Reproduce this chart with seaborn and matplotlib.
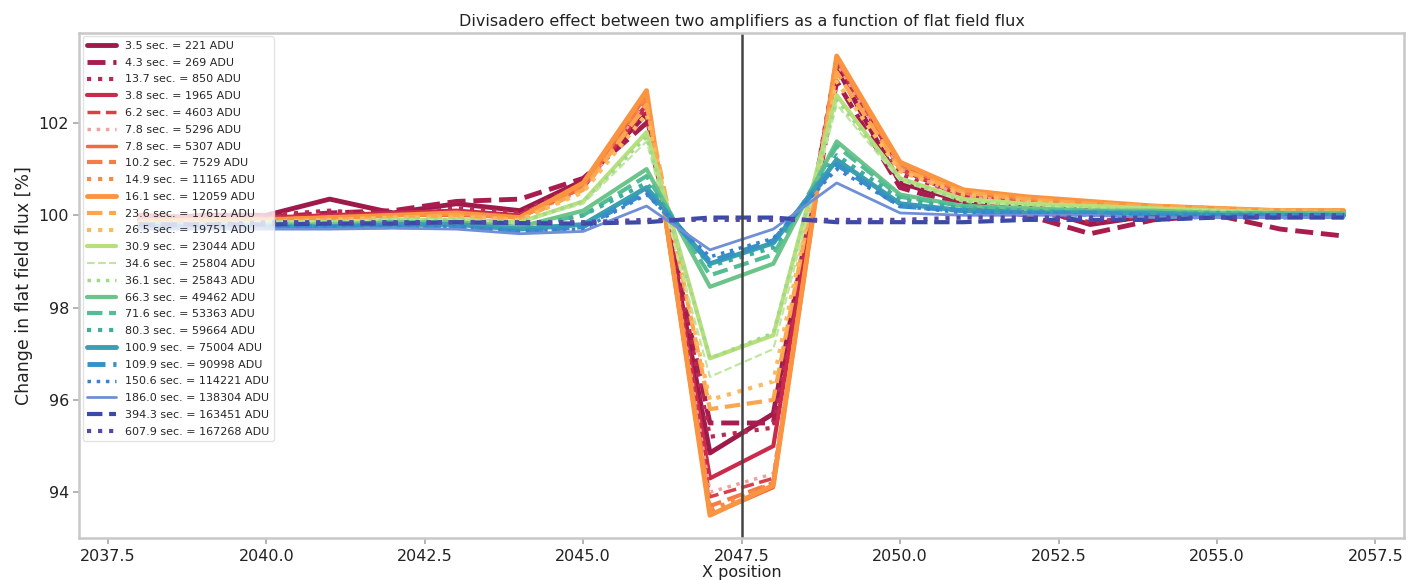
import numpy as np
import pandas as pd
import seaborn as sns
import matplotlib.pyplot as plt

# -------------------- Data --------------------
x_pos = list(range(2038, 2058))

labels = [
    "3.5 sec. = 221 ADU", "4.3 sec. = 269 ADU", "13.7 sec. = 850 ADU",
    "3.8 sec. = 1965 ADU", "6.2 sec. = 4603 ADU", "7.8 sec. = 5296 ADU",
    "7.8 sec. = 5307 ADU", "10.2 sec. = 7529 ADU", "14.9 sec. = 11165 ADU",
    "16.1 sec. = 12059 ADU", "23.6 sec. = 17612 ADU", "26.5 sec. = 19751 ADU",
    "30.9 sec. = 23044 ADU", "34.6 sec. = 25804 ADU", "36.1 sec. = 25843 ADU",
    "66.3 sec. = 49462 ADU", "71.6 sec. = 53363 ADU", "80.3 sec. = 59664 ADU",
    "100.9 sec. = 75004 ADU", "109.9 sec. = 90998 ADU", "150.6 sec. = 114221 ADU",
    "186.0 sec. = 138304 ADU", "394.3 sec. = 163451 ADU", "607.9 sec. = 167268 ADU",
]

f221 = [99.9, 100.0, 100.0, 100.35, 100.05, 100.25, 100.1, 100.75, 102.2, 94.85, 95.7, 103.2, 100.7, 100.3, 100.2, 99.8, 100.0, 100.05, 100.0, 100.05]
f269 = [100.0, 99.9, 99.95, 100.05, 100.1, 100.3, 100.35, 100.8, 102.0, 95.5, 95.5, 102.9, 100.6, 100.2, 100.0, 99.6, 99.9, 100.0, 99.7, 99.55]
f850 = [99.95, 100.0, 100.0, 100.1, 100.0, 100.15, 100.05, 100.7, 102.3, 95.2, 95.4, 103.4, 100.9, 100.3, 100.1, 99.85, 100.0, 100.0, 99.95, 100.0]
f1965 = [100.0, 99.95, 99.95, 100.0, 100.05, 100.1, 100.0, 100.6, 102.4, 94.3, 95.0, 103.35, 101.0, 100.4, 100.25, 100.1, 100.1, 100.05, 100.0, 100.05]
f4603 = [99.95, 100.0, 99.95, 99.95, 100.0, 100.05, 99.95, 100.6, 102.5, 93.9, 94.3, 103.4, 101.0, 100.45, 100.3, 100.15, 100.1, 100.05, 100.05, 100.05]
f5296 = [99.9, 99.9, 99.9, 99.95, 100.0, 100.0, 99.95, 100.55, 102.5, 94.0, 94.4, 103.3, 101.0, 100.4, 100.3, 100.2, 100.1, 100.05, 100.05, 100.05]
f5307 = [99.9, 99.9, 99.9, 99.95, 100.0, 100.0, 99.95, 100.6, 102.6, 93.5, 94.1, 103.45, 101.1, 100.5, 100.35, 100.25, 100.2, 100.1, 100.1, 100.1]
f7529 = [99.9, 99.9, 99.9, 99.95, 99.95, 100.0, 99.9, 100.6, 102.55, 93.7, 94.2, 103.4, 101.1, 100.5, 100.35, 100.25, 100.2, 100.1, 100.1, 100.1]
f11165 = [99.9, 99.85, 99.9, 99.95, 99.95, 100.0, 99.95, 100.65, 102.6, 93.6, 94.2, 103.4, 101.1, 100.55, 100.35, 100.25, 100.2, 100.15, 100.1, 100.1]
f12059 = [99.85, 99.9, 99.9, 99.95, 100.0, 100.05, 99.95, 100.7, 102.7, 93.5, 94.15, 103.45, 101.15, 100.55, 100.4, 100.3, 100.2, 100.15, 100.1, 100.1]
f17612 = [99.85, 99.85, 99.85, 99.9, 99.95, 100.0, 99.9, 100.55, 102.4, 95.8, 96.0, 103.1, 101.0, 100.5, 100.35, 100.25, 100.2, 100.15, 100.1, 100.1]
f19751 = [99.85, 99.85, 99.85, 99.9, 99.95, 99.95, 99.9, 100.5, 102.2, 96.0, 96.4, 102.9, 100.95, 100.45, 100.3, 100.2, 100.15, 100.1, 100.1, 100.05]
f23044 = [99.8, 99.8, 99.85, 99.85, 99.9, 99.9, 99.85, 100.3, 101.8, 96.9, 97.4, 102.6, 100.8, 100.35, 100.25, 100.2, 100.15, 100.1, 100.05, 100.05]
f25804 = [99.8, 99.8, 99.85, 99.85, 99.9, 99.9, 99.85, 100.25, 101.6, 96.5, 97.1, 102.4, 100.75, 100.3, 100.2, 100.15, 100.1, 100.1, 100.05, 100.05]
f25843 = [99.8, 99.8, 99.85, 99.85, 99.9, 99.9, 99.85, 100.3, 101.7, 96.9, 97.45, 102.5, 100.8, 100.3, 100.2, 100.15, 100.1, 100.1, 100.05, 100.05]
f49462 = [99.8, 99.8, 99.8, 99.8, 99.85, 99.85, 99.75, 100.1, 101.0, 98.45, 98.95, 101.6, 100.45, 100.2, 100.15, 100.1, 100.1, 100.05, 100.05, 100.05]
f53363 = [99.8, 99.8, 99.8, 99.8, 99.85, 99.85, 99.75, 100.0, 100.85, 98.7, 99.15, 101.5, 100.4, 100.2, 100.1, 100.1, 100.05, 100.05, 100.05, 100.0]
f59664 = [99.8, 99.8, 99.8, 99.8, 99.8, 99.8, 99.7, 100.0, 100.7, 98.9, 99.3, 101.3, 100.35, 100.15, 100.1, 100.05, 100.05, 100.05, 100.0, 100.0]
f75004 = [99.75, 99.75, 99.75, 99.75, 99.8, 99.8, 99.7, 99.8, 100.6, 98.95, 99.4, 101.2, 100.25, 100.1, 100.05, 100.05, 100.05, 100.0, 100.0, 100.0]
f90998 = [99.75, 99.75, 99.75, 99.75, 99.75, 99.75, 99.65, 99.75, 100.5, 99.0, 99.45, 101.1, 100.2, 100.1, 100.05, 100.05, 100.0, 100.0, 100.0, 100.0]
f114221 = [99.75, 99.75, 99.75, 99.75, 99.75, 99.75, 99.65, 99.7, 100.45, 99.1, 99.5, 101.0, 100.2, 100.05, 100.05, 100.0, 100.0, 100.0, 100.0, 99.95]
f138304 = [99.7, 99.7, 99.7, 99.7, 99.72, 99.7, 99.6, 99.65, 100.2, 99.25, 99.7, 100.7, 100.05, 100.0, 100.0, 100.0, 99.95, 99.95, 99.95, 99.95]
f163451 = [99.8, 99.8, 99.8, 99.82, 99.82, 99.85, 99.83, 99.82, 99.85, 99.95, 99.95, 99.85, 99.85, 99.85, 99.9, 99.9, 99.9, 99.95, 99.95, 99.95]
f167268 = [99.8, 99.8, 99.85, 99.85, 99.85, 99.85, 99.85, 99.85, 99.9, 99.9, 99.9, 99.9, 99.9, 99.95, 99.95, 99.95, 99.95, 99.95, 100.0, 100.0]

series = [f221, f269, f850, f1965, f4603, f5296, f5307, f7529, f11165, f12059,
          f17612, f19751, f23044, f25804, f25843, f49462, f53363, f59664,
          f75004, f90998, f114221, f138304, f163451, f167268]

# -------------------- Styles --------------------
colors = [
    "#9e1a4a", "#a81d4d", "#b82a52", "#cc2a4a", "#d8414a", "#f0a0a0",
    "#f26a3e", "#f57c45", "#f88a45", "#fb9440", "#fca650", "#fdb95e",
    "#b8e07a", "#bfe6a0", "#9fd98a", "#6cc48a", "#55bd95", "#3fae9c",
    "#3a9fb0", "#3591c6", "#3b82cc", "#6f8fd6", "#3a4aa8", "#5548a8",
]
linestyles = ["-", "--", ":"] * 8
widths = [3.5, 3.5, 3, 3, 2.5, 2.5, 2.5, 3, 3, 3.5, 3, 3,
          3, 1.5, 2.5, 3, 3, 3, 3.5, 3.5, 2.5, 2, 3, 3]

# -------------------- Plot --------------------
sns.set_theme(style="white")
fig = plt.figure(figsize=(14.16, 5.8), dpi=100)
ax = fig.add_axes([0.056, 0.072, 0.9355, 0.871])

for vals, lab, col, ls, lw in zip(series, labels, colors, linestyles, widths):
    df = pd.DataFrame({"x": x_pos, "y": vals})
    sns.lineplot(data=df, x="x", y="y", color=col, linestyle=ls, lw=lw,
                 label=lab, ax=ax)

ax.axvline(2047.5, color="#444444", lw=1.8)

ax.set_xticks([2037.5, 2040.0, 2042.5, 2045.0, 2047.5, 2050.0, 2052.5, 2055.0, 2057.5])
ax.set_xticklabels(["2037.5", "2040.0", "2042.5", "2045.0", "2047.5",
                    "2050.0", "2052.5", "2055.0", "2057.5"])
ax.set_yticks([94, 96, 98, 100, 102])
ax.tick_params(axis="both", labelsize=11.5, length=4, color="#aaaaaa",
               labelcolor="#222222", bottom=True, left=True)

for sp in ax.spines.values():
    sp.set_color("#c8c8c8")
    sp.set_linewidth(1.8)

ax.set_title("Divisadero effect between two amplifiers as a function of flat field flux",
             fontsize=11.5, color="#222222", pad=5)
ax.set_xlabel("X position", fontsize=11.5, color="#222222", labelpad=1)
ax.set_ylabel("Change in flat field flux [%]", fontsize=12.5, color="#222222")

ax.legend(loc="upper left", fontsize=8, labelspacing=0.61, handlelength=2.6,
          framealpha=0.8, edgecolor="#dddddd", borderpad=0.4,
          borderaxespad=0.3)

plt.savefig("out.png", dpi=100)
